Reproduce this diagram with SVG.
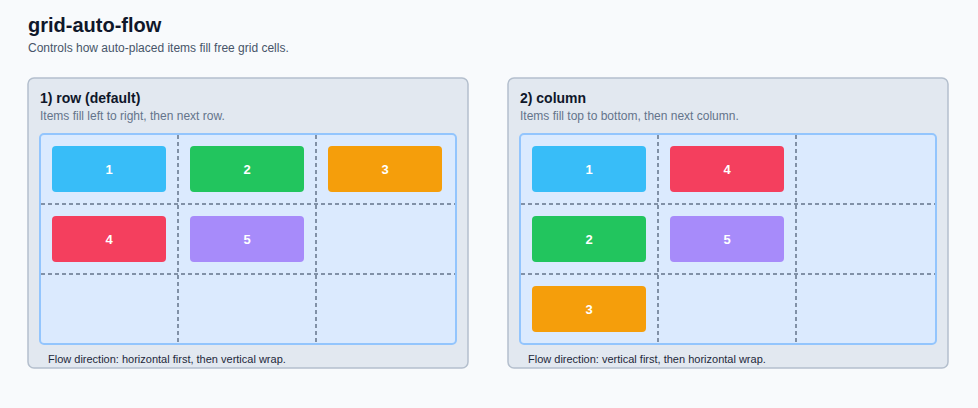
<svg xmlns="http://www.w3.org/2000/svg" width="978" height="408" viewBox="0 0 978 408">
<style>
text{font-family:"Liberation Sans",Arial,sans-serif}
.panel{fill:#e2e8f0;stroke:#b4bfcd;stroke-width:1.5}
.grid{fill:#dbeafe;stroke:#93c5fd;stroke-width:2}
.gl{stroke:#64748b;stroke-width:1.5;stroke-dasharray:4 3;fill:none}
.h{font-size:14px;font-weight:bold;fill:#0f172a}
.s{font-size:12px;fill:#64748b}
.f{font-size:11px;fill:#1e293b}
.it rect{rx:4}
.it text{font-size:13px;font-weight:bold;fill:#fff;text-anchor:middle}
</style>
<rect width="978" height="408" fill="#f8fafc"/>
<text x="28" y="32" font-size="20" font-weight="bold" fill="#0f172a">grid-auto-flow</text>
<text x="28" y="52" font-size="12" fill="#475569">Controls how auto-placed items fill free grid cells.</text>
<g id="panel-row">
<rect class="panel" x="28" y="78" width="440" height="290" rx="6"/>
<text class="h" x="40" y="103">1) row (default)</text>
<text class="s" x="40" y="120">Items fill left to right, then next row.</text>
<rect class="grid" x="40" y="134" width="416" height="210" rx="4"/>
<path class="gl" d="M178 135V343M316 135V343M41 204H455M41 274H455"/>
<text class="f" x="48" y="363">Flow direction: horizontal first, then vertical wrap.</text>
</g>
<g id="r1" class="it"><rect x="52" y="146" width="114" height="46" fill="#38bdf8"/><text x="109" y="174">1</text></g>
<g id="r2" class="it"><rect x="190" y="146" width="114" height="46" fill="#22c55e"/><text x="247" y="174">2</text></g>
<g id="r3" class="it"><rect x="328" y="146" width="114" height="46" fill="#f59e0b"/><text x="385" y="174">3</text></g>
<g id="r4" class="it"><rect x="52" y="216" width="114" height="46" fill="#f43f5e"/><text x="109" y="244">4</text></g>
<g id="r5" class="it"><rect x="190" y="216" width="114" height="46" fill="#a78bfa"/><text x="247" y="244">5</text></g>
<g id="panel-col">
<rect class="panel" x="508" y="78" width="440" height="290" rx="6"/>
<text class="h" x="520" y="103">2) column</text>
<text class="s" x="520" y="120">Items fill top to bottom, then next column.</text>
<rect class="grid" x="520" y="134" width="416" height="210" rx="4"/>
<path class="gl" d="M658 135V343M796 135V343M521 204H935M521 274H935"/>
<text class="f" x="528" y="363">Flow direction: vertical first, then horizontal wrap.</text>
</g>
<g id="c1" class="it"><rect x="532" y="146" width="114" height="46" fill="#38bdf8"/><text x="589" y="174">1</text></g>
<g id="c2" class="it"><rect x="532" y="216" width="114" height="46" fill="#22c55e"/><text x="589" y="244">2</text></g>
<g id="c3" class="it"><rect x="532" y="286" width="114" height="46" fill="#f59e0b"/><text x="589" y="314">3</text></g>
<g id="c4" class="it"><rect x="670" y="146" width="114" height="46" fill="#f43f5e"/><text x="727" y="174">4</text></g>
<g id="c5" class="it"><rect x="670" y="216" width="114" height="46" fill="#a78bfa"/><text x="727" y="244">5</text></g>
<g id="connectors"/>
</svg>
